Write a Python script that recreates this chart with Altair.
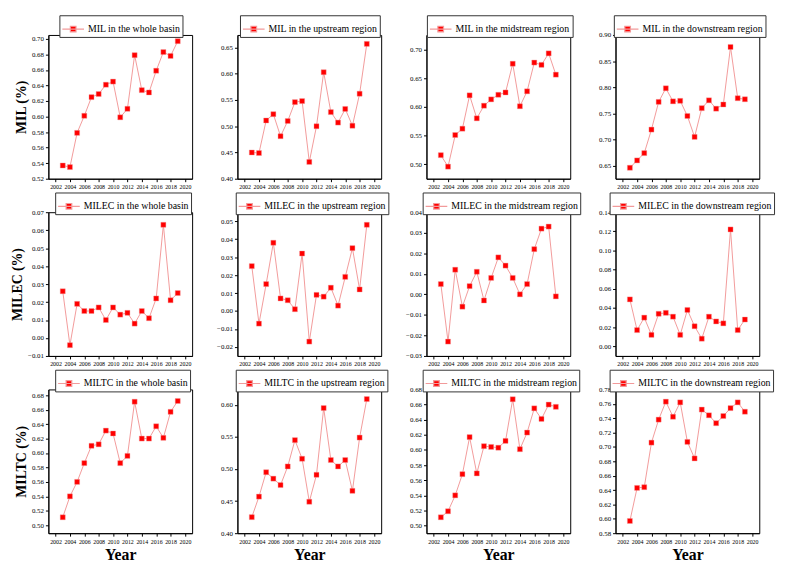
import altair as alt
import pandas as pd

years = list(range(2003, 2020))

# MIL
mil_whole = [0.537, 0.535, 0.579, 0.601, 0.625, 0.629, 0.641, 0.645, 0.599, 0.610, 0.679, 0.634, 0.631, 0.659, 0.683, 0.678, 0.697]
mil_up = [0.450, 0.449, 0.511, 0.523, 0.481, 0.510, 0.546, 0.548, 0.432, 0.500, 0.603, 0.527, 0.507, 0.533, 0.501, 0.562, 0.657]
mil_mid = [0.516, 0.496, 0.551, 0.562, 0.620, 0.580, 0.602, 0.613, 0.621, 0.625, 0.675, 0.601, 0.627, 0.677, 0.673, 0.693, 0.656]
mil_down = [0.646, 0.660, 0.674, 0.719, 0.772, 0.798, 0.773, 0.774, 0.745, 0.705, 0.760, 0.775, 0.759, 0.767, 0.877, 0.779, 0.777]
# MILEC
milec_whole = [0.026, -0.004, 0.019, 0.015, 0.015, 0.017, 0.010, 0.017, 0.013, 0.014, 0.008, 0.015, 0.011, 0.022, 0.063, 0.021, 0.025]
milec_up = [0.025, -0.007, 0.015, 0.038, 0.007, 0.006, 0.001, 0.032, -0.017, 0.009, 0.008, 0.013, 0.003, 0.019, 0.035, 0.012, 0.048]
milec_mid = [0.005, -0.023, 0.012, -0.006, 0.004, 0.011, -0.003, 0.008, 0.018, 0.014, 0.008, 0.000, 0.005, 0.022, 0.032, 0.033, -0.001]
milec_down = [0.049, 0.017, 0.030, 0.012, 0.034, 0.035, 0.031, 0.012, 0.038, 0.021, 0.008, 0.031, 0.026, 0.024, 0.122, 0.017, 0.028]
# MILTC
miltc_whole = [0.511, 0.540, 0.560, 0.586, 0.610, 0.612, 0.631, 0.627, 0.586, 0.596, 0.671, 0.620, 0.620, 0.637, 0.621, 0.657, 0.672]
miltc_up = [0.425, 0.457, 0.495, 0.485, 0.475, 0.504, 0.545, 0.516, 0.449, 0.491, 0.595, 0.514, 0.504, 0.514, 0.466, 0.549, 0.609]
miltc_mid = [0.511, 0.519, 0.540, 0.568, 0.617, 0.569, 0.605, 0.604, 0.603, 0.612, 0.667, 0.601, 0.623, 0.655, 0.641, 0.660, 0.657]
miltc_down = [0.597, 0.643, 0.644, 0.706, 0.738, 0.763, 0.742, 0.762, 0.707, 0.684, 0.752, 0.744, 0.733, 0.743, 0.754, 0.762, 0.749]

labels = [
    "MIL in the whole basin", "MIL in the upstream region", "MIL in the midstream region", "MIL in the downstream region",
    "MILEC in the whole basin", "MILEC in the upstream region", "MILEC in the midstream region", "MILEC in the downstream region",
    "MILTC in the whole basin", "MILTC in the upstream region", "MILTC in the midstream region", "MILTC in the downstream region",
]
series = [mil_whole, mil_up, mil_mid, mil_down,
          milec_whole, milec_up, milec_mid, milec_down,
          miltc_whole, miltc_up, miltc_mid, miltc_down]

y_domains = [
    [0.52, 0.705], [0.40, 0.674], [0.475, 0.725], [0.625, 0.90],
    [-0.01, 0.07], [-0.025, 0.055], [-0.03, 0.04], [-0.01, 0.14],
    [0.489, 0.688], [0.40, 0.624], [0.49, 0.68], [0.58, 0.78],
]
y_ticks = [
    [0.52, 0.54, 0.56, 0.58, 0.60, 0.62, 0.64, 0.66, 0.68, 0.70],
    [0.40, 0.45, 0.50, 0.55, 0.60, 0.65],
    [0.50, 0.55, 0.60, 0.65, 0.70],
    [0.65, 0.70, 0.75, 0.80, 0.85, 0.90],
    [-0.01, 0.00, 0.01, 0.02, 0.03, 0.04, 0.05, 0.06, 0.07],
    [-0.02, -0.01, 0.00, 0.01, 0.02, 0.03, 0.04, 0.05],
    [-0.03, -0.02, -0.01, 0.00, 0.01, 0.02, 0.03, 0.04],
    [0.00, 0.02, 0.04, 0.06, 0.08, 0.10, 0.12, 0.14],
    [0.50, 0.52, 0.54, 0.56, 0.58, 0.60, 0.62, 0.64, 0.66, 0.68],
    [0.40, 0.45, 0.50, 0.55, 0.60],
    [0.50, 0.52, 0.54, 0.56, 0.58, 0.60, 0.62, 0.64, 0.66, 0.68],
    [0.58, 0.60, 0.62, 0.64, 0.66, 0.68, 0.70, 0.72, 0.74, 0.76, 0.78],
]
row_titles = ["MIL (%)", "MILEC (%)", "MILTC (%)"]
x_ticks = list(range(2002, 2021, 2))

W, H = 146, 146
RED = "#ff0000"
PINK = "#f29a9a"
FONT = "Liberation Serif"
SYMBOL = "M-1,0H1M-0.26,-0.26H0.26V0.26H-0.26Z"


def panel(i):
    label = labels[i]
    row, col = divmod(i, 4)
    df = pd.DataFrame({"Year": years, "Value": series[i], "Series": [label] * len(years)})
    base = alt.Chart(df)
    est_w = 29 + 4.3 * len(label)
    lx = (W - est_w) / 2
    x = alt.X("Year:Q",
              scale=alt.Scale(domain=[2001, 2021], nice=False, zero=False),
              axis=alt.Axis(values=x_ticks, format="d", labelOverlap=False, labelFlush=False,
                            labelFontSize=6,
                            title="Year" if row == 2 else None))
    y = alt.Y("Value:Q",
              scale=alt.Scale(domain=y_domains[i], nice=False, zero=False),
              axis=alt.Axis(values=y_ticks[i], format=".2f", labelOverlap=False, labelFlush=False,
                            title=row_titles[row] if col == 0 else None))
    leg = alt.Legend(title=None, orient="none", legendX=lx, legendY=-20,
                     symbolType=SYMBOL, symbolSize=484, symbolStrokeWidth=1.2,
                     labelFont=FONT, labelFontSize=10, labelColor="black",
                     strokeColor="#333333", fillColor="white", padding=2, labelOffset=3)
    line = base.mark_line(color=PINK, strokeWidth=1).encode(x=x, y=y)
    pts = base.mark_point(shape="square", filled=True, size=26, strokeWidth=0.4, opacity=1).encode(
        x=x, y=y,
        fill=alt.Fill("Series:N", scale=alt.Scale(range=[RED]), legend=leg),
        stroke=alt.Stroke("Series:N", scale=alt.Scale(range=[PINK]), legend=leg),
    )
    return alt.layer(line, pts).properties(width=W, height=H)


charts = [panel(i) for i in range(12)]

chart = alt.concat(*charts, columns=4, spacing={"row": 34, "column": 46}, bounds="flush").resolve_scale(
    fill="independent", stroke="independent", x="independent", y="independent"
).resolve_legend(fill="independent", stroke="independent").properties(
    padding={"left": 2, "top": 2, "right": 2, "bottom": 2}
).configure(font=FONT).configure_view(
    stroke="black", strokeWidth=1
).configure_legend(
    labelFont=FONT
).configure_axis(
    labelFont=FONT, labelFontSize=7, labelColor="black", tickColor="black", domainColor="black",
    tickSize=3, grid=False, labelPadding=2, titleFont=FONT, titleColor="black"
).configure_axisY(
    titleFontSize=14, titleFontWeight="bold", titlePadding=3
).configure_axisX(
    titleFontSize=16, titleFontWeight="bold", titlePadding=3
)

chart.save("out.html", embed_options={"renderer": "svg", "actions": False})
